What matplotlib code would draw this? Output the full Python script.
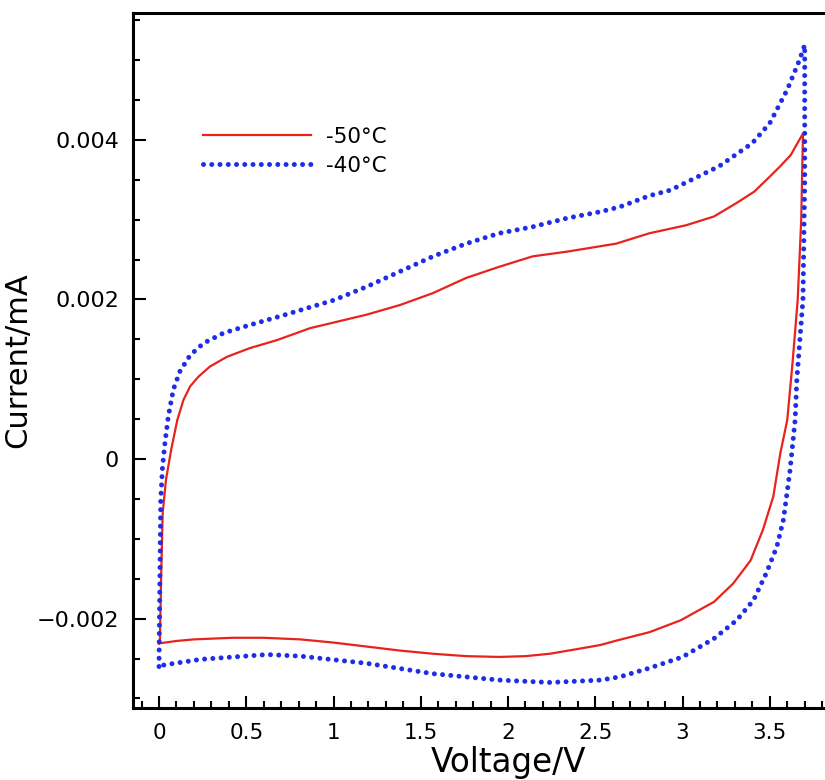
import matplotlib
matplotlib.use("Agg")
import matplotlib.pyplot as plt
from matplotlib.ticker import MultipleLocator

# -50°C loop : forward sweep then reverse sweep (V, mA)
v_50 = [0.0, 0.005, 0.012, 0.021, 0.04, 0.07, 0.105, 0.14, 0.178, 0.225, 0.292,
        0.388, 0.52, 0.675, 0.865, 0.98, 1.19, 1.38, 1.57, 1.76, 1.95, 2.14,
        2.34, 2.62, 2.81, 3.02, 3.18, 3.31, 3.41, 3.50, 3.56, 3.62, 3.69,
        3.68, 3.66, 3.63, 3.60, 3.56, 3.52, 3.46, 3.39, 3.29, 3.18, 2.99, 2.81,
        2.63, 2.53, 2.40, 2.24, 2.10, 1.95, 1.76, 1.57, 1.38, 1.19, 1.00, 0.81,
        0.60, 0.42, 0.20, 0.10, 0.0]
i_50 = [-0.00231, -0.0023, -0.0015, -0.00068, -0.00026, 0.00012, 0.00049, 0.00074,
        0.00091, 0.00103, 0.00116, 0.00128, 0.00139, 0.00149, 0.00164, 0.0017,
        0.00181, 0.00193, 0.00208, 0.00227, 0.00241, 0.00254, 0.0026, 0.0027,
        0.00283, 0.00293, 0.00304, 0.00321, 0.00335, 0.00354, 0.00367, 0.00381,
        0.00408,
        0.0030, 0.0020, 0.0012, 0.00049, 0.00007, -0.00047, -0.00089, -0.00127,
        -0.00156, -0.00179, -0.00202, -0.00217, -0.00227, -0.00233, -0.00238,
        -0.00244, -0.00247, -0.00248, -0.00247, -0.00244, -0.0024, -0.00235,
        -0.0023, -0.00226, -0.00224, -0.00224, -0.00226, -0.00228, -0.00231]

# -40°C loop
v_40 = [0.0, 0.005, 0.01, 0.02, 0.034, 0.053, 0.082, 0.12, 0.178, 0.254, 0.37,
        0.52, 0.71, 0.846, 1.0, 1.19, 1.38, 1.57, 1.76, 1.95, 2.14, 2.34, 2.53,
        2.64, 2.81, 2.93, 3.21, 3.40, 3.50, 3.60, 3.67, 3.70,
        3.70, 3.69, 3.655, 3.645, 3.616, 3.578, 3.54, 3.48, 3.406, 3.31, 3.18,
        3.00, 2.81, 2.64, 2.53, 2.24, 1.95, 1.57, 1.19, 0.81, 0.62, 0.24, 0.03,
        0.0]
i_40 = [-0.0026, -0.0015, -0.0005, -0.0001, 0.0002, 0.00053, 0.00087, 0.0011,
        0.0013, 0.00145, 0.00158, 0.00168, 0.0018, 0.00189, 0.00199, 0.00216,
        0.00235, 0.00254, 0.0027, 0.00283, 0.00291, 0.00302, 0.0031, 0.00316,
        0.0033, 0.00337, 0.00367, 0.00396, 0.00421, 0.00463, 0.0050, 0.00519,
        0.0035, 0.0020, 0.0010, 0.00049, -0.00014, -0.00076, -0.0011, -0.00143,
        -0.00177, -0.00202, -0.00225, -0.00248, -0.00262, -0.00273, -0.00277,
        -0.0028, -0.00277, -0.00269, -0.00256, -0.00247, -0.00245, -0.00251,
        -0.00258, -0.0026]

y_ticks = [-0.002, 0.0, 0.002, 0.004]
y_labels = ["\u22120.002", "0", "0.002", "0.004"]
x_ticks = [0, 0.5, 1, 1.5, 2, 2.5, 3, 3.5]
x_labels = ["0", "0.5", "1", "1.5", "2", "2.5", "3", "3.5"]

plt.rcParams['font.family'] = ['DejaVu Sans']

fig = plt.figure(figsize=(8.25, 7.8), dpi=100)
# the right part of the frame falls outside the picture, as in the original
ax = fig.add_axes([0.161, 0.0923, 0.9096, 0.891])

ax.plot(v_50, i_50, color='#e8231c', lw=1.6, label='-50\u00b0C')
ax.plot(v_40, i_40, color='#1f2ee6', lw=3.6, linestyle=(0, (0.001, 1.65)),
        dash_capstyle='round', label='-40\u00b0C')

ax.set_xlim(-0.15, 4.15)
ax.set_ylim(-0.00312, 0.00559)

ax.set_xticks(x_ticks)
ax.set_xticklabels(x_labels, fontsize=15.5)
ax.set_yticks(y_ticks)
ax.set_yticklabels(y_labels, fontsize=16)
ax.xaxis.set_minor_locator(MultipleLocator(0.1))
ax.yaxis.set_minor_locator(MultipleLocator(0.0005))

ax.tick_params(which='both', direction='in', top=False, right=False, width=1.5)
ax.tick_params(which='major', length=9)
ax.tick_params(which='minor', length=5)
ax.tick_params(axis='x', which='major', pad=11)
ax.tick_params(axis='y', which='major', pad=10)

ax.spines['right'].set_visible(False)
for s in ['left', 'bottom', 'top']:
    ax.spines[s].set_linewidth(2.2)

ax.set_xlabel('Voltage/V', fontsize=23.5, labelpad=2)
ax.set_ylabel('Current/mA', fontsize=22, labelpad=3)

ax.legend(loc='upper left', bbox_to_anchor=(0.0936, 0.836), frameon=False,
          fontsize=15.5, handlelength=5.0, handletextpad=0.7,
          labelspacing=0.4, borderpad=0, borderaxespad=0)

fig.savefig('out.png', dpi=100)
